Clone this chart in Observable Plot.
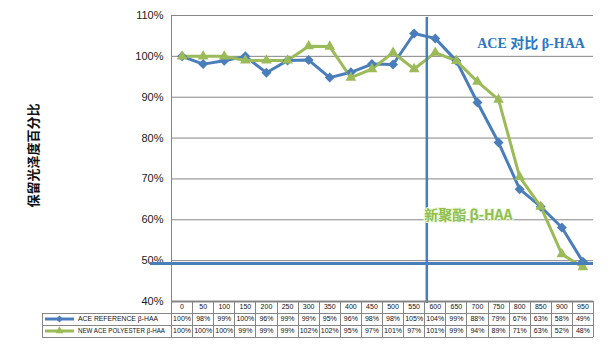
<!DOCTYPE html>
<html><head><meta charset="utf-8">
<script src="https://cdn.jsdelivr.net/npm/d3@7"></script>
<script src="https://cdn.jsdelivr.net/npm/@observablehq/plot@0.6"></script>
<style>body{margin:0;background:#fff}</style>
</head><body><div id="chart"></div>
<script>
const temps = [0,50,100,150,200,250,300,350,400,450,500,550,600,650,700,750,800,850,900,950];
const refValues = [100,98.1,98.9,100,96,99,99.1,94.8,96.1,98.1,98,105.6,104.4,98.9,88.7,78.9,67.5,63.2,58.1,49.7];
const newValues = [100,100,100,99,99,99,102.5,102.4,94.8,96.9,100.9,96.9,100.9,98.9,93.8,89.4,70.5,63.2,51.6,48.4];
const refLabels = ["100%","98%","99%","100%","96%","99%","99%","95%","96%","98%","98%","105%","104%","99%","88%","79%","67%","63%","58%","49%"];
const newLabels = ["100%","100%","100%","99%","99%","99%","102%","102%","95%","97%","101%","97%","101%","99%","94%","89%","71%","63%","52%","48%"];
const yTicks = [40,50,60,70,80,90,100,110];
const seriesNames = ["ACE REFERENCE β-HAA","NEW ACE POLYESTER β-HAA"];
const yTitle = "保留光泽度百分比";
const note1 = "ACE 对比 β-HAA";
const note2 = "新聚酯 β-HAA";
const limitY = 49.3;
const markX = 580;

const blue = "#4A7EBB", green = "#9BBB59", grid = "#868686";
const refData = temps.map((t, i) => ({t, v: refValues[i], lab: refLabels[i]}));
const newData = temps.map((t, i) => ({t, v: newValues[i], lab: newLabels[i]}));
const tblFont = 7;
const tblFill = "#101018";

const plot = Plot.plot({
  width: 607, height: 353,
  marginLeft: 171, marginRight: 14, marginTop: 15, marginBottom: 52,
  style: {fontFamily: "'Liberation Sans', Arial, sans-serif", fontSize: "10px", background: "#fff"},
  x: {type: "linear", domain: [-25, 975], axis: null},
  y: {domain: [40, 110], axis: null},
  marks: [
    Plot.ruleY(yTicks.filter(d => d > 40), {stroke: grid, strokeWidth: 1}),
    Plot.ruleX([-25], {stroke: grid, strokeWidth: 1}),
    Plot.text(yTicks, {x: -25, y: d => d, text: d => d + "%", textAnchor: "end", dx: -8, fontSize: 11, fill: "#1a1a1a"}),
    Plot.line(refData, {x: "t", y: "v", stroke: blue, strokeWidth: 3}),
    Plot.line(newData, {x: "t", y: "v", stroke: green, strokeWidth: 3}),
    Plot.dot(refData, {x: "t", y: "v", symbol: "diamond2", r: 4.5, fill: blue}),
    Plot.dot(newData, {x: "t", y: "v", symbol: "triangle", r: 4, fill: green}),
    Plot.ruleY([limitY], {x1: -75, x2: 975, stroke: blue, strokeWidth: 3}),
    Plot.ruleX([markX], {y1: 109.5, y2: 39.5, stroke: blue, strokeWidth: 2.5}),
    Plot.ruleY([40], {stroke: grid, strokeWidth: 2}),
    Plot.text([note1], {x: 827, y: 103.1, text: d => d, fontSize: 14, fontWeight: "bold", fill: "#2a78c2",
      fontFamily: "'Liberation Serif', 'Noto Sans CJK SC', serif"}),
    Plot.text([note2], {x: 574, y: 61, text: d => d, textAnchor: "start", fontSize: 14, fontWeight: "bold", fill: "#8fc04c",
      stroke: "#eef7e0", strokeWidth: 2, fontFamily: "'Noto Sans CJK SC', sans-serif"}),
    Plot.text([yTitle], {frameAnchor: "left", textAnchor: "middle", dx: -138, dy: -3, rotate: -90, text: d => d,
      fontSize: 13, fontWeight: "bold", fill: "#111", fontFamily: "'Noto Sans CJK SC', sans-serif"}),
    Plot.text(temps, {x: d => d, text: d => String(d), frameAnchor: "bottom", dy: 7, fontSize: tblFont, fill: tblFill}),
    Plot.text(refData, {x: "t", text: "lab", frameAnchor: "bottom", dy: 19, fontSize: tblFont, fill: tblFill}),
    Plot.text(newData, {x: "t", text: "lab", frameAnchor: "bottom", dy: 31, fontSize: tblFont, fill: tblFill})
  ]
});
document.getElementById("chart").appendChild(plot);

// data table grid + legend keys, positioned with the plot's own x scale
const xs = plot.scale("x");
const svg = d3.select(plot);
const g = svg.append("g").attr("stroke", grid).attr("stroke-width", 1).attr("shape-rendering", "crispEdges");
const right = xs.apply(975), keyLeft = 42;
const rowTop = 301, rowH = 12;
[rowTop + rowH, rowTop + 2 * rowH, rowTop + 3 * rowH].forEach(y =>
  g.append("line").attr("x1", keyLeft).attr("x2", right).attr("y1", y + 0.5).attr("y2", y + 0.5));
temps.concat([975]).forEach(t => {
  const x = Math.round(xs.apply(t === 975 ? 975 : t - 25)) + 0.5;
  g.append("line").attr("x1", x).attr("x2", x).attr("y1", rowTop).attr("y2", rowTop + 3 * rowH);
});
g.append("line").attr("x1", keyLeft + 0.5).attr("x2", keyLeft + 0.5).attr("y1", rowTop + rowH).attr("y2", rowTop + 3 * rowH);

const keys = [{c: blue, sym: d3.symbolDiamond2, s: 30, w: 80}, {c: green, sym: d3.symbolTriangle, s: 28, w: 87}];
keys.forEach((k, i) => {
  const y = rowTop + rowH * (i + 1) + rowH / 2;
  svg.append("line").attr("x1", 45).attr("x2", 74).attr("y1", y).attr("y2", y).attr("stroke", k.c).attr("stroke-width", 3);
  svg.append("path").attr("d", d3.symbol(k.sym, k.s)()).attr("transform", `translate(59.5,${y})`).attr("fill", k.c);
  svg.append("text").attr("x", 78).attr("y", y).attr("dy", "0.35em").attr("text-anchor", "start")
    .attr("font-size", 6.6).attr("fill", tblFill)
    .attr("textLength", k.w).attr("lengthAdjust", "spacingAndGlyphs").text(seriesNames[i]);
});
</script>
</body></html>
